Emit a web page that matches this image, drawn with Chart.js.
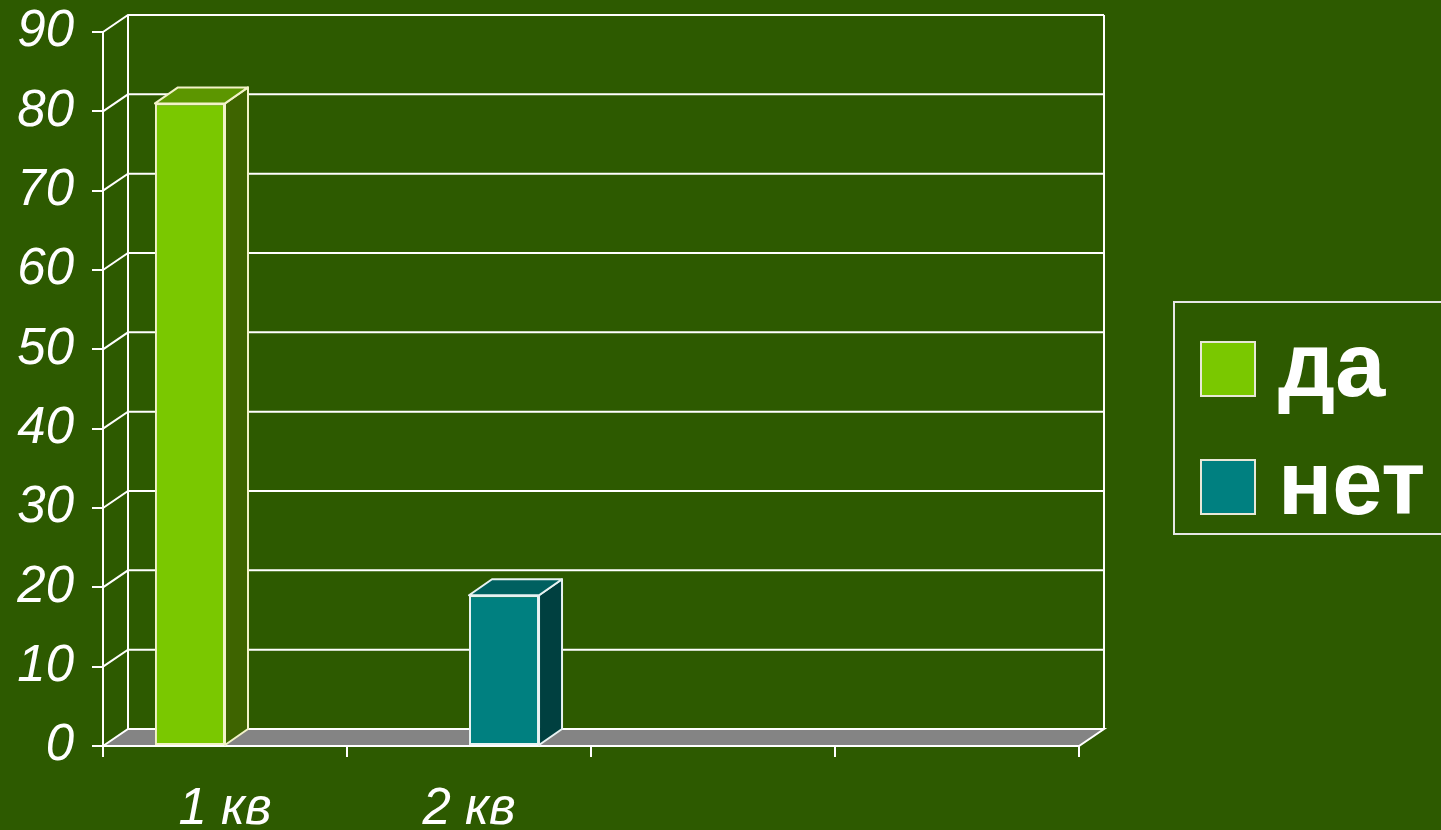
<!DOCTYPE html>
<html>
<head>
<meta charset="utf-8">
<script src="https://cdn.jsdelivr.net/npm/chart.js@4.4.1/dist/chart.umd.min.js"></script>
<style>
  html, body { margin: 0; padding: 0; background: #2D5A00; overflow: hidden; }
  #wrap { position: absolute; left: 0; top: 0; width: 1441px; height: 830px; }
  #legend {
    position: absolute; left: 1173px; top: 301px; width: 320px; height: 234px;
    border: 2px solid #e6e6e6; box-sizing: border-box;
  }
  .item { position: absolute; left: 25px; height: 56px; display: flex; align-items: center; }
  .box { width: 52px; height: 52px; border: 2px solid #e8e8d8; }
  .lbl { margin-left: 22px; color: #fff; font: bold 90px "Liberation Sans", Arial, sans-serif; line-height: 1; position: relative; top: -4px; }
</style>
</head>
<body>
<div id="wrap"><canvas id="barChartCanvas"></canvas></div>
<div id="legend"></div>
<script>
// данные диаграммы
const categories = ['1 кв', '2 кв', '', ''];
const seriesNames = ['да', 'нет'];
const daValues = [81, null, null, null];
const netValues = [null, 19, null, null];
const yMin = 0, yMax = 90, yStep = 10;

const frontColors = ['#7AC800', '#008080'];
const sideColors = ['#3E6400', '#004040'];
const topColors = ['#5C9600', '#006060'];
const edgeColors = ['#F2F2C8', '#E8F2F2'];

const DX = 25, DY = -17; // глубина стенок
const BDX = 23, BDY = -16; // глубина столбиков

// задняя стенка, сетка и пол
const walls = {
    id: 'walls',
    beforeDraw(chart) {
        const { ctx, chartArea: a, scales: { y } } = chart;
        ctx.save();
        ctx.strokeStyle = '#ffffff';
        ctx.lineWidth = 2;
        ctx.beginPath();
        for (let v = yMin + yStep; v <= yMax; v += yStep) {
            const py = y.getPixelForValue(v);
            ctx.moveTo(a.left, py);
            ctx.lineTo(a.left + DX, py + DY);
            ctx.lineTo(a.right + DX, py + DY);
        }
        ctx.moveTo(a.left + DX, a.top + DY);
        ctx.lineTo(a.left + DX, a.bottom + DY);
        ctx.moveTo(a.right + DX, a.top + DY);
        ctx.lineTo(a.right + DX, a.bottom + DY);
        ctx.stroke();

        // пол
        ctx.beginPath();
        ctx.moveTo(a.left, a.bottom);
        ctx.lineTo(a.left + DX, a.bottom + DY);
        ctx.lineTo(a.right + DX, a.bottom + DY);
        ctx.lineTo(a.right, a.bottom);
        ctx.closePath();
        ctx.fillStyle = '#848484';
        ctx.fill();
        ctx.stroke();
        ctx.restore();
    }
};

// боковые и верхние грани столбиков
const bars3d = {
    id: 'bars3d',
    afterDatasetsDraw(chart) {
        const ctx = chart.ctx;
        chart.data.datasets.forEach((ds, i) => {
            const meta = chart.getDatasetMeta(i);
            meta.data.forEach((bar, j) => {
                if (ds.data[j] === null) return;
                const { x, y, base, width } = bar.getProps(['x', 'y', 'base', 'width'], true);
                const l = x - width / 2, r = x + width / 2;
                ctx.save();
                ctx.strokeStyle = edgeColors[i];
                ctx.lineWidth = 2;
                ctx.lineJoin = 'round';
                ctx.beginPath();
                ctx.moveTo(r, y);
                ctx.lineTo(r + BDX, y + BDY);
                ctx.lineTo(r + BDX, base + BDY);
                ctx.lineTo(r, base);
                ctx.closePath();
                ctx.fillStyle = sideColors[i];
                ctx.fill();
                ctx.stroke();
                ctx.beginPath();
                ctx.moveTo(l, y);
                ctx.lineTo(l + BDX, y + BDY);
                ctx.lineTo(r + BDX, y + BDY);
                ctx.lineTo(r, y);
                ctx.closePath();
                ctx.fillStyle = topColors[i];
                ctx.fill();
                ctx.stroke();
                ctx.restore();
            });
        });
    }
};

const xFont = { family: 'Liberation Sans', style: 'italic', size: 51 };
const yFont = { family: 'Liberation Sans', style: 'italic', size: 51, lineHeight: 0.5 };

new Chart(document.getElementById('barChartCanvas').getContext('2d'), {
    type: 'bar',
    data: {
        labels: categories,
        datasets: [daValues, netValues].map((vals, i) => ({
            label: seriesNames[i],
            data: vals,
            backgroundColor: frontColors[i],
            borderColor: edgeColors[i],
            borderWidth: 2,
            borderSkipped: false,
            categoryPercentage: 0.574,
            barPercentage: 1.0
        }))
    },
    options: {
        responsive: true,
        maintainAspectRatio: false,
        animation: false,
        layout: { padding: { top: 32, right: 362, left: 0, bottom: 0 } },
        plugins: { legend: { display: false }, tooltip: { enabled: false } },
        scales: {
            x: {
                grid: { drawOnChartArea: false, tickLength: 11, color: '#ffffff', lineWidth: 2 },
                border: { color: '#ffffff', width: 2 },
                ticks: { color: '#ffffff', font: xFont, padding: 22, maxRotation: 0, autoSkip: false },
                afterFit: s => { s.height = 84; }
            },
            y: {
                min: yMin,
                max: yMax,
                grid: { drawOnChartArea: false, tickLength: 11, color: '#ffffff', lineWidth: 2 },
                border: { color: '#ffffff', width: 2 },
                ticks: { stepSize: yStep, color: '#ffffff', font: yFont, padding: 18 },
                afterFit: s => { s.width = 103; }
            }
        }
    },
    plugins: [walls, bars3d]
});

// легенда
const legend = document.getElementById('legend');
seriesNames.forEach((name, i) => {
    const item = document.createElement('div');
    item.className = 'item';
    item.style.top = (38 + i * 118) + 'px';
    item.innerHTML = '<div class="box" style="background:' + frontColors[i] + '"></div><span class="lbl">' + name + '</span>';
    legend.appendChild(item);
});
</script>
</body>
</html>
